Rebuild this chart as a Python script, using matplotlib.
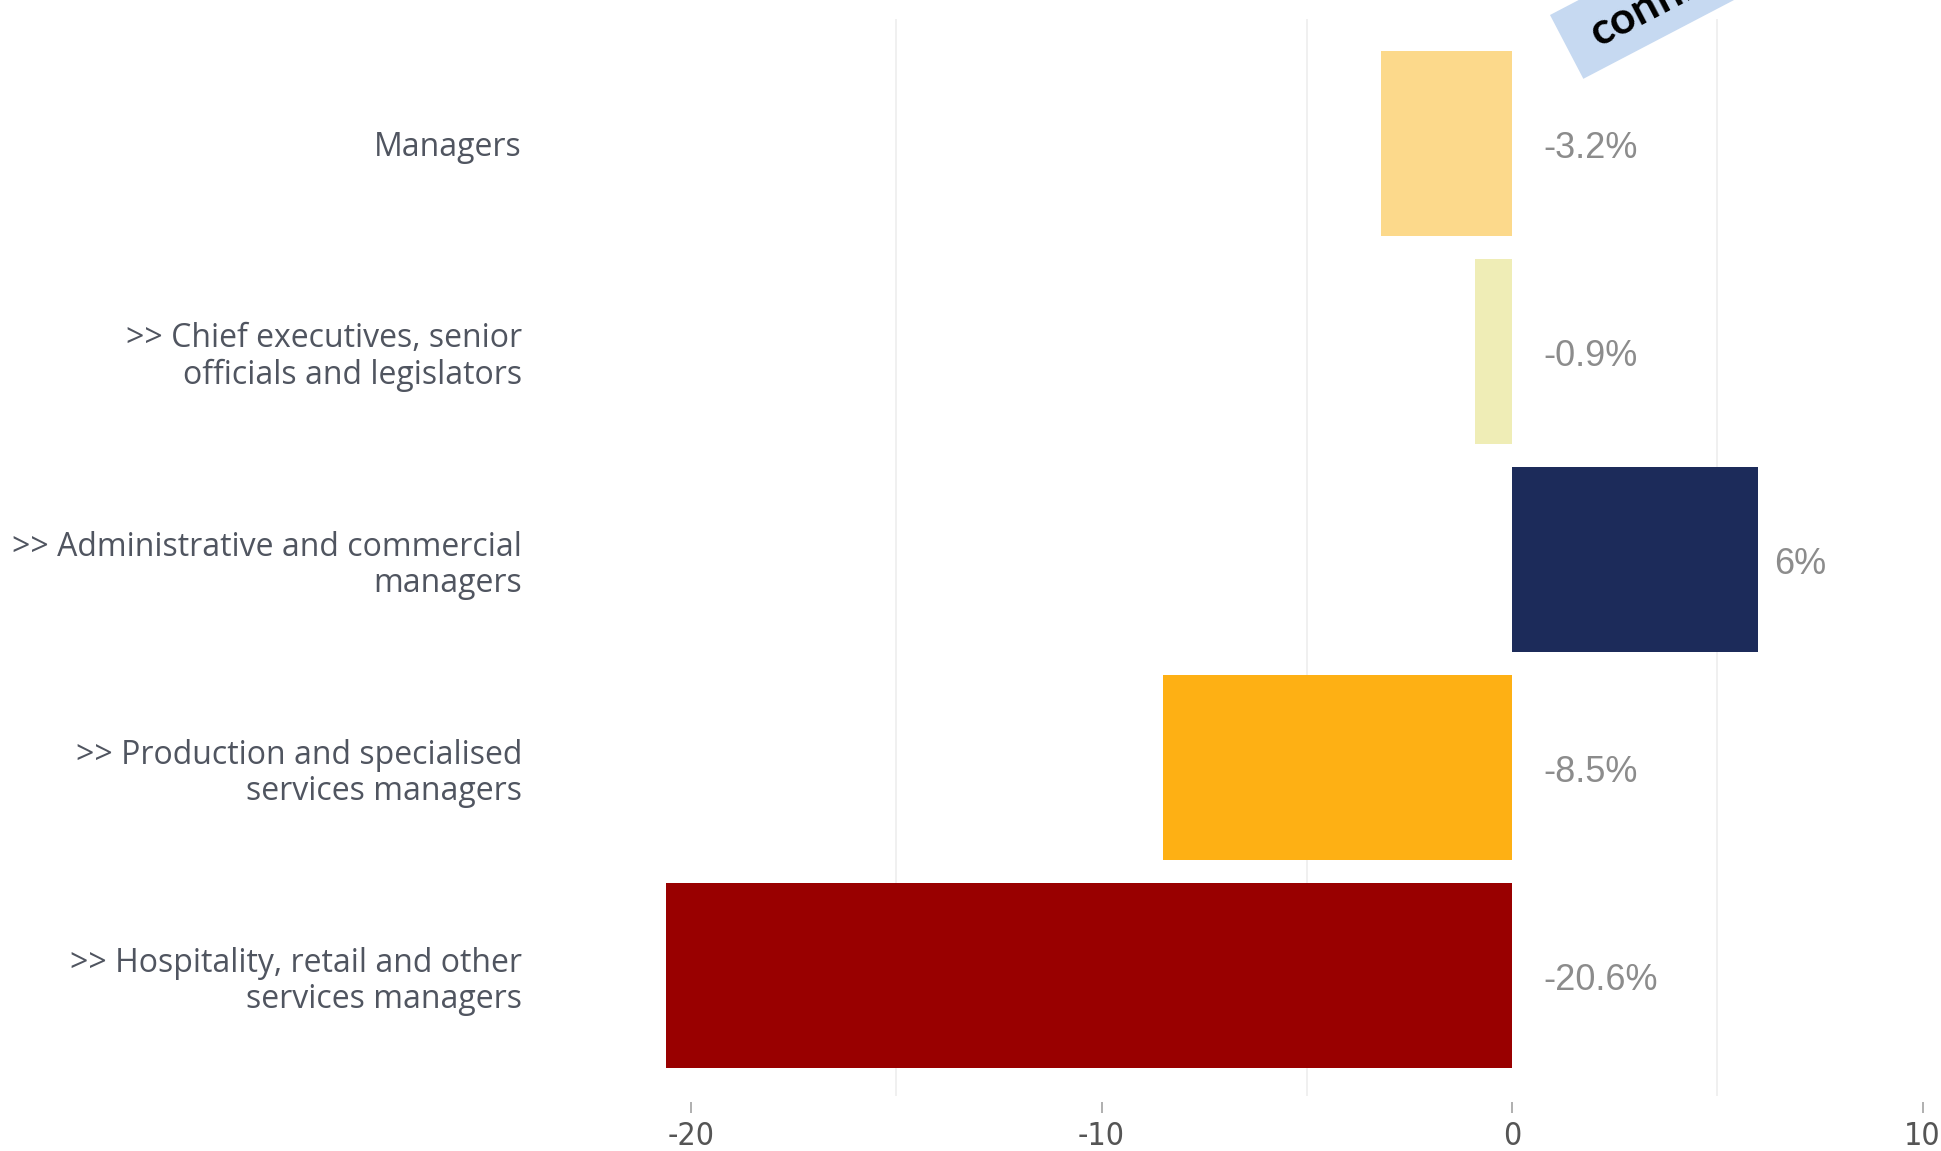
import matplotlib
matplotlib.use("Agg")
import matplotlib.pyplot as plt
from matplotlib.patches import Polygon
import numpy as np

# Occupation groups (top to bottom) and change in employment (%)
categories = [
    "Managers",
    ">> Chief executives, senior\nofficials and legislators",
    ">> Administrative and commercial\nmanagers",
    ">> Production and specialised\nservices managers",
    ">> Hospitality, retail and other\nservices managers",
]
changes = [-3.2, -0.9, 6.0, -8.5, -20.6]
value_labels = ["-3.2%", "-0.9%", "6%", "-8.5%", "-20.6%"]
bar_colors = ["#FCD98B", "#EFEDB6", "#1C2B5A", "#FEB014", "#990000"]
x_ticks = [-20, -10, 0, 10]
x_grid = [-15, -5, 5]
ribbon_text = "confirmed"

W, H = 1941, 1151
fig = plt.figure(figsize=(W / 100, H / 100), dpi=100)

# axes placement in pixels (y measured from top)
ax_left, ax_right = 560, 1941
ax_top, ax_bottom = 18.6, 1102
ax = fig.add_axes([ax_left / W, 1 - ax_bottom / H,
                   (ax_right - ax_left) / W, (ax_bottom - ax_top) / H])

px_per_unit = 41.05
x0_px = 1512
ax.set_xlim((ax_left - x0_px) / px_per_unit, (ax_right - x0_px) / px_per_unit)
ax.set_ylim(4.608, -0.601)

y = np.arange(len(categories))
ax.barh(y, changes, height=0.89, color=bar_colors, zorder=2)

# light vertical grid
ax.vlines(x_grid, -0.601, 4.577, color="#efefef", linewidth=1.3, zorder=1)

for s in ax.spines.values():
    s.set_visible(False)

ax.set_xticks(x_ticks)
ax.set_xticklabels([str(t) for t in x_ticks],
                   fontfamily="DejaVu Sans", fontstretch="condensed",
                   fontsize=23, color="#555555")
ax.tick_params(axis="x", length=8, width=1.1, color="#9a9a9a", pad=6)

ax.set_yticks(y)
ax.set_yticklabels(categories, fontfamily="Open Sans", fontsize=23,
                   color="#505560", linespacing=1.12)
ax.tick_params(axis="y", length=0, pad=(ax_left - 522) * 0.72)
for lbl in ax.get_yticklabels():
    lbl.set_multialignment("right")

# value labels
for yi, v, txt in zip(y, changes, value_labels):
    if v < 0:
        xpos, off = 0, 31
    else:
        xpos, off = v, 16
    ax.annotate(txt, xy=(xpos, yi), xytext=(off, -5), textcoords="offset pixels",
                ha="left", va="center", fontsize=26,
                fontfamily="Liberation Sans", color="#8c8c8c")

# rotated ribbon in the upper right corner
ang = np.deg2rad(27.6)
u = np.array([np.cos(ang), -np.sin(ang)])   # along ribbon (pixel coords, y down)
v = np.array([np.sin(ang), np.cos(ang)])    # across ribbon
corner = np.array([1550.0, 15.0])
width, length = 72.0, 500.0
pts = [corner, corner + u * length, corner + u * length + v * width, corner + v * width]
pts_fig = [(p[0] / W, 1 - p[1] / H) for p in pts]
fig.patches.append(Polygon(pts_fig, closed=True, transform=fig.transFigure,
                           facecolor="#C6D9F1", edgecolor="none", zorder=5))
start = corner + v * (width / 2 + 2) + u * 28
fig.text(start[0] / W, 1 - start[1] / H, ribbon_text, rotation=27.6,
         rotation_mode="anchor", ha="left", va="center",
         fontfamily="Lato", fontweight="bold", fontsize=32, color="black",
         zorder=6)

fig.savefig("out.png", dpi=100)
